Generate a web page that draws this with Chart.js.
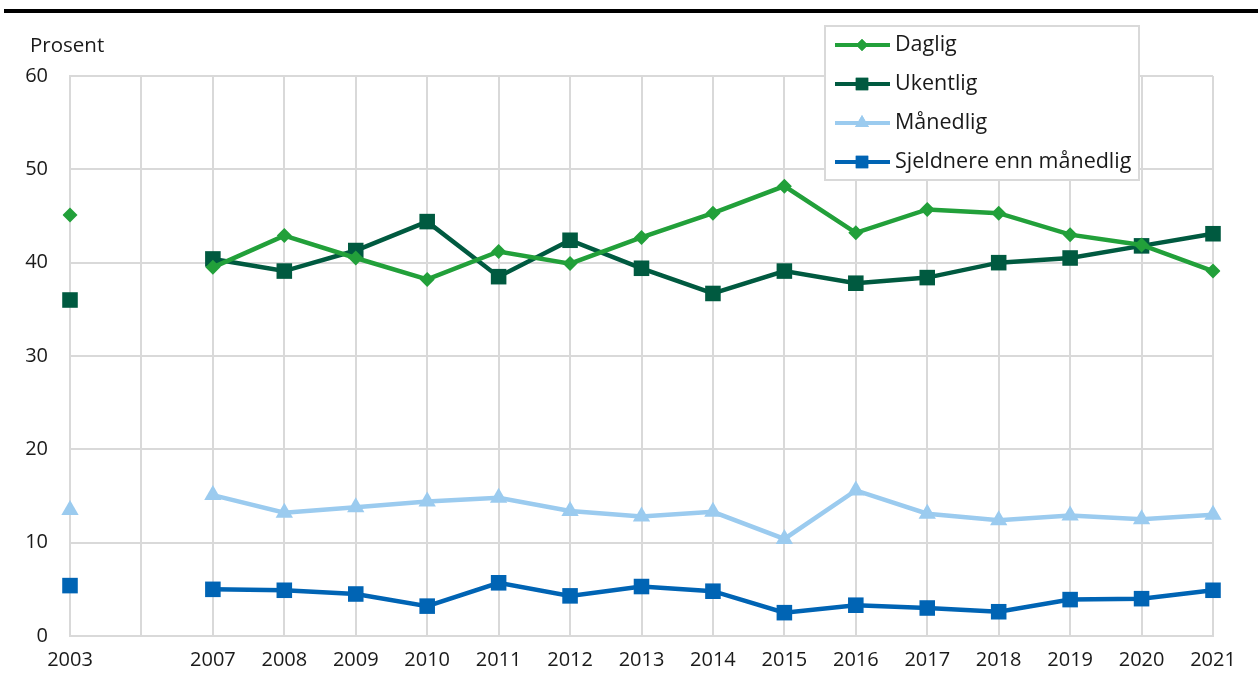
<!DOCTYPE html>
<html lang="no">
<head>
    <meta charset="UTF-8">
    <title>Prosent</title>
    <script src="https://cdn.jsdelivr.net/npm/chart.js"></script>
    <style>
        html, body { margin: 0; padding: 0; background: #fff; }
        #grafico { width: 1258px; height: 673px; position: relative; }
    </style>
</head>
<body>
    <div id="grafico">
        <canvas id="grafico-info"></canvas>
    </div>
    <script>
        const aar = ['2003', '', '2007', '2008', '2009', '2010', '2011', '2012', '2013', '2014', '2015', '2016', '2017', '2018', '2019', '2020', '2021'];
        const daglig = [45.1, null, 39.5, 42.9, 40.5, 38.2, 41.2, 39.9, 42.7, 45.3, 48.2, 43.2, 45.7, 45.3, 43.0, 41.9, 39.1];
        const ukentlig = [36.0, null, 40.4, 39.1, 41.3, 44.4, 38.5, 42.4, 39.4, 36.7, 39.1, 37.8, 38.4, 40.0, 40.5, 41.8, 43.1];
        const maanedlig = [13.5, null, 15.1, 13.2, 13.8, 14.4, 14.8, 13.4, 12.8, 13.3, 10.4, 15.6, 13.1, 12.4, 12.9, 12.5, 13.0];
        const sjeldnere = [5.4, null, 5.0, 4.9, 4.5, 3.2, 5.7, 4.3, 5.3, 4.8, 2.5, 3.3, 3.0, 2.6, 3.9, 4.0, 4.9];
        const yTicks = [0, 10, 20, 30, 40, 50, 60];

        const fonte = '"Open Sans", "Noto Sans", sans-serif';
        const grade = '#d9d9d9';

        function serie(nome, dados, cor, estilo, raio) {
            return {
                label: nome,
                data: dados,
                borderColor: cor,
                backgroundColor: cor,
                borderWidth: 4.5,
                pointStyle: estilo,
                pointRadius: raio,
                pointHoverRadius: raio,
                pointBorderWidth: 0,
                spanGaps: false,
                tension: 0
            };
        }

        // extras: linha preta no topo, "Prosent" e legenda dentro do gráfico
        const extras = {
            id: 'extras',
            afterDraw(chart) {
                const ctx = chart.ctx;
                ctx.save();
                ctx.fillStyle = '#000';
                ctx.fillRect(4, 9, 1254, 4);

                ctx.font = '20.5px ' + fonte;
                ctx.fillStyle = '#1a1a1a';
                ctx.textBaseline = 'middle';
                ctx.textAlign = 'left';
                ctx.fillText('Prosent', 30, 46);

                // legenda
                const bx = 825, by = 26, bw = 314, bh = 154;
                ctx.fillStyle = '#fff';
                ctx.fillRect(bx, by, bw, bh);
                ctx.strokeStyle = grade;
                ctx.lineWidth = 2;
                ctx.strokeRect(bx, by, bw, bh);

                ctx.font = '21.5px ' + fonte;
                const linhas = [45, 84, 123, 162];
                chart.data.datasets.forEach((ds, i) => {
                    const y = linhas[i];
                    ctx.strokeStyle = ds.borderColor;
                    ctx.lineWidth = 4;
                    ctx.beginPath();
                    ctx.moveTo(835, y);
                    ctx.lineTo(890, y);
                    ctx.stroke();
                    ctx.fillStyle = ds.backgroundColor;
                    Chart.helpers.drawPoint(ctx, { pointStyle: ds.pointStyle, radius: ds.pointRadius * 0.8, rotation: 0, borderWidth: 0 }, 862, y);
                    ctx.fill();
                    ctx.fillStyle = '#1a1a1a';
                    ctx.fillText(ds.label, 895, y);
                });
                ctx.restore();
            }
        };

        function criarGrafico() {
            const ctx = document.getElementById('grafico-info').getContext('2d');
            new Chart(ctx, {
                type: 'line',
                data: {
                    labels: aar,
                    datasets: [
                        serie('Daglig', daglig, '#22a03a', 'rectRot', 7.5),
                        serie('Ukentlig', ukentlig, '#005a40', 'rect', 11),
                        serie('Månedlig', maanedlig, '#9bcbef', 'triangle', 10),
                        serie('Sjeldnere enn månedlig', sjeldnere, '#0064b4', 'rect', 11)
                    ]
                },
                options: {
                    responsive: true,
                    maintainAspectRatio: false,
                    animation: false,
                    layout: { padding: { top: 76, right: 45, left: 0, bottom: 0 } },
                    plugins: {
                        legend: { display: false },
                        tooltip: { enabled: false }
                    },
                    scales: {
                        x: {
                            offset: false,
                            grid: { color: grade, lineWidth: 2, drawTicks: false },
                            border: { color: grade, width: 2 },
                            ticks: {
                                font: { family: fonte, size: 20 },
                                color: '#1a1a1a',
                                padding: 12,
                                maxRotation: 0,
                                autoSkip: false
                            },
                            afterFit(s) { s.height = 37; }
                        },
                        y: {
                            min: 0,
                            max: 60,
                            afterBuildTicks(s) { s.ticks = yTicks.map(v => ({ value: v })); },
                            grid: { color: grade, lineWidth: 2, drawTicks: false },
                            border: { color: grade, width: 2 },
                            ticks: {
                                font: { family: fonte, size: 20 },
                                color: '#1a1a1a',
                                padding: 22
                            },
                            afterFit(s) { s.width = 70; }
                        }
                    }
                },
                plugins: [extras]
            });
        }

        window.onload = function() {
            criarGrafico();
        };
    </script>
</body>
</html>
